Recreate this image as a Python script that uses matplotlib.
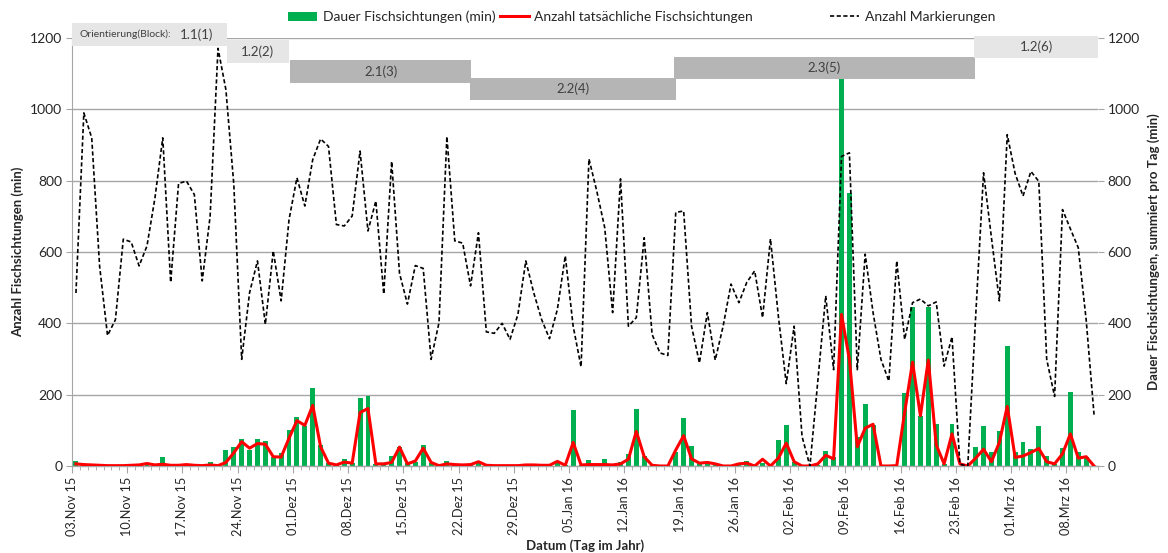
import numpy as np
import pandas as pd
import matplotlib
matplotlib.use("Agg")
import matplotlib.pyplot as plt
from matplotlib.patches import Rectangle, Patch
from matplotlib.lines import Line2D
from matplotlib.ticker import MultipleLocator, FixedLocator

plt.rcParams['font.family'] = ['Lato', 'DejaVu Sans']

# Tage ab 03.11.2015
start_date = "2015-11-03"
n_days = 130
monate = {1: "Jan", 2: "Feb", 3: "Mrz", 11: "Nov", 12: "Dez"}

# Dauer Fischsichtungen, summiert pro Tag (min)
dauer = [13, 3, 2, 1, 1, 0, 1, 2, 5, 3,
         2, 25, 3, 1, 2, 1, 0, 10, 3, 44,
         53, 75, 44, 77, 69, 26, 37, 101, 138, 113,
         219, 59, 8, 2, 21, 9, 191, 197, 5, 5,
         28, 52, 9, 11, 60, 8, 1, 13, 5, 3,
         2, 10, 2, 1, 1, 2, 1, 2, 1, 3,
         2, 8, 3, 158, 2, 17, 4, 20, 3, 11,
         35, 160, 29, 2, 1, 2, 39, 134, 57, 9,
         9, 8, 2, 2, 5, 14, 3, 9, 4, 72,
         115, 12, 1, 0, 3, 42, 26, 1090, 766, 80,
         175, 115, 0, 0, 0, 205, 447, 140, 447, 118,
         5, 118, 0, 0, 53, 113, 38, 99, 336, 40,
         68, 47, 111, 27, 6, 50, 207, 39, 26, 0]

# Anzahl tatsaechliche Fischsichtungen
anzahl = [6, 4, 3, 2, 1, 1, 1, 2, 3, 7,
          3, 5, 2, 2, 4, 2, 1, 3, 1, 10,
          37, 68, 50, 63, 61, 26, 25, 78, 127, 114,
          170, 54, 8, 3, 11, 8, 150, 161, 6, 6,
          10, 53, 6, 14, 50, 10, 1, 6, 4, 3,
          4, 12, 2, 1, 1, 1, 1, 3, 3, 2,
          2, 13, 2, 66, 3, 4, 4, 4, 3, 6,
          19, 97, 26, 2, 0, 0, 45, 85, 20, 8,
          10, 6, 0, 0, 6, 8, 0, 19, 0, 22,
          64, 12, 0, 0, 6, 30, 20, 425, 299, 54,
          106, 117, 0, 0, 1, 150, 291, 141, 297, 59,
          6, 90, 6, 0, 22, 47, 12, 66, 167, 24,
          28, 38, 49, 12, 6, 34, 90, 22, 26, 0]

# Anzahl Markierungen
markierungen = [485, 990, 920, 560, 366, 410, 636, 628, 561, 617,
                750, 920, 515, 792, 799, 761, 519, 700, 1171, 1055,
                790, 299, 486, 575, 397, 603, 463, 691, 808, 729,
                859, 917, 896, 677, 673, 701, 883, 659, 743, 482,
                854, 540, 454, 562, 554, 299, 402, 924, 631, 625,
                505, 654, 376, 372, 400, 355, 425, 575, 486, 411,
                357, 439, 589, 392, 278, 861, 770, 668, 430, 805,
                392, 416, 640, 369, 317, 310, 711, 715, 392, 289,
                430, 297, 392, 510, 458, 515, 547, 416, 637, 420,
                231, 392, 83, 0, 240, 477, 270, 868, 878, 270,
                594, 430, 299, 238, 575, 355, 458, 468, 449, 460,
                280, 362, 5, 0, 420, 822, 640, 463, 929, 820,
                757, 826, 798, 299, 195, 719, 665, 612, 410, 144]

# Orientierungs-Bloecke (Beginn/Ende in Tagen ab Start)
block_labels = ["1.1(1)", "1.2(2)", "2.1(3)", "2.2(4)", "2.3(5)", "1.2(6)"]
block_start = [0, 19.6, 27.6, 50.4, 76.3, 114.3]
block_end = [19.7, 27.5, 50.6, 76.5, 114.4, 130]

# layout of the block boxes (bottom value, color)
block_bottom = [1178, 1130, 1074, 1026, 1085, 1144]
block_height = 63
block_color = ['#e6e6e6', '#e6e6e6', '#b5b5b5', '#b5b5b5', '#b5b5b5', '#e6e6e6']

dates = pd.date_range(start_date, periods=n_days, freq="D")
x = np.arange(n_days) + 0.5

W, H = 1168, 553
fig = plt.figure(figsize=(W / 100, H / 100), dpi=100)
ax = fig.add_axes([72 / W, 87 / H, 1026 / W, 428 / H])
ax2 = ax.twinx()
ax.set_zorder(ax2.get_zorder() + 1)
ax.patch.set_visible(False)

grid_c = '#a6a6a6'
text_c = '#262626'

ax2.bar(x, dauer, width=0.62, color='#00b050', zorder=2)
ax.plot(x, anzahl, color='#ff0000', lw=2.2, zorder=3)
ax.plot(x, markierungen, color='black', lw=1.2, ls=(0, (2.5, 1.5)), zorder=3)

for a in (ax, ax2):
    a.set_xlim(0, n_days)
    a.set_ylim(0, 1200)
    a.yaxis.set_major_locator(MultipleLocator(200))
    for s in a.spines.values():
        s.set_visible(False)
    a.tick_params(axis='y', length=4, color=grid_c, labelsize=10, labelcolor=text_c, pad=3)

ax.spines['left'].set_visible(True)
ax.spines['left'].set_color(grid_c)
ax.spines['bottom'].set_visible(True)
ax.spines['bottom'].set_color(grid_c)
ax.spines['bottom'].set_linewidth(1.0)

week_pos = np.arange(0, n_days, 7)
labels = [f"{dates[p].day:02d}.{monate[dates[p].month]} {dates[p].year % 100}" for p in week_pos]
ax.xaxis.set_major_locator(FixedLocator(week_pos))
ax.xaxis.set_minor_locator(MultipleLocator(1))
ax.set_xticklabels(labels, rotation=90, fontsize=9.2, color=text_c)
ax.tick_params(axis='x', which='major', length=5, color=grid_c, pad=3)
ax.tick_params(axis='x', which='minor', length=3, color=grid_c)
ax2.tick_params(axis='x', which='both', length=0)

ax2.set_axisbelow(True)
ax2.xaxis.set_major_locator(FixedLocator(week_pos))
ax2.grid(True, axis='both', color=grid_c, lw=1.0)

ax.set_ylabel("Anzahl Fischsichtungen (min)", fontsize=9.5, fontweight='bold', color=text_c, labelpad=4)
ax2.set_ylabel("Dauer Fischsichtungen, summiert pro Tag (min)", fontsize=9.5, fontweight='bold',
               color=text_c, labelpad=5)
ax.set_xlabel("Datum (Tag im Jahr)", fontsize=9.5, fontweight='bold', color=text_c, labelpad=2)

# Block boxes
for lab, s, e, b, c in zip(block_labels, block_start, block_end, block_bottom, block_color):
    ax.add_patch(Rectangle((s, b), e - s, block_height, facecolor=c, edgecolor='none',
                           clip_on=False, zorder=5))
    if lab == block_labels[0]:
        ax.text(s + (e - s) * 0.64, b + block_height / 2, "Orientierung(Block):", fontsize=7.5,
                ha='right', va='center', color='#404040', clip_on=False, zorder=6)
        ax.text(s + (e - s) * 0.80, b + block_height / 2, lab, fontsize=9.5,
                ha='center', va='center', color='#404040', clip_on=False, zorder=6)
    else:
        ax.text((s + e) / 2, b + block_height / 2, lab, fontsize=9.5,
                ha='center', va='center', color='#404040', clip_on=False, zorder=6)

# Legend
h_bar = Patch(facecolor='#00b050', edgecolor='none')
h_red = Line2D([], [], color='#ff0000', lw=2.2)
h_mark = Line2D([], [], color='black', lw=1.2, ls=(0, (2.5, 1.5)))
leg_kw = dict(frameon=False, fontsize=10, handlelength=2.1, handletextpad=0.4,
              borderaxespad=0, borderpad=0, labelcolor=text_c)
leg1 = fig.legend([h_bar, h_red], ["Dauer Fischsichtungen (min)", "Anzahl tatsächliche Fischsichtungen"],
                  loc='center left', bbox_to_anchor=(288 / W, 1 - 17 / H), ncol=2,
                  columnspacing=0.3, **leg_kw)
leg2 = fig.legend([h_mark], ["Anzahl Markierungen"], loc='center left',
                  bbox_to_anchor=(830 / W, 1 - 17 / H), **leg_kw)

fig.savefig("out.png", dpi=100)
